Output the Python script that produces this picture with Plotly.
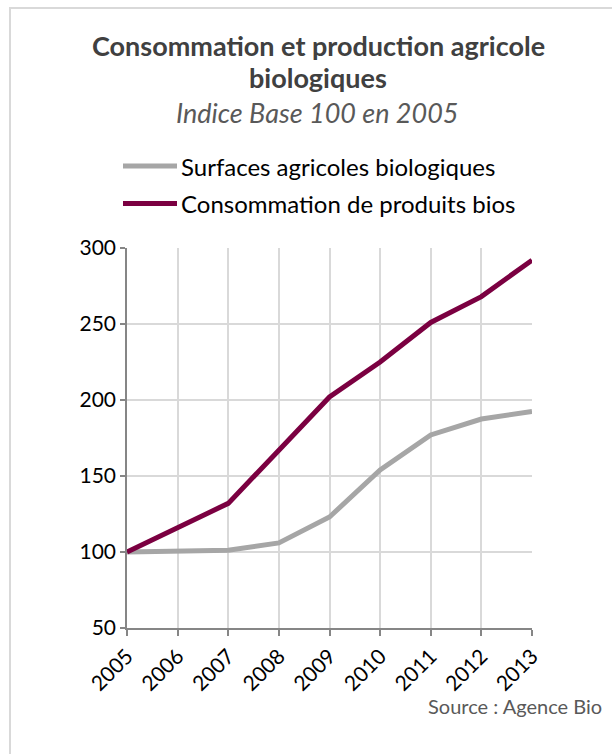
import plotly.graph_objects as go

# Index values (base 100 in 2005)
years = [2005, 2006, 2007, 2008, 2009, 2010, 2011, 2012, 2013]
surfaces = [100, 100.5, 101.2, 106, 123, 154, 177, 187.5, 192.5]
consommation = [100, 116, 132, 167, 202, 225, 251, 268, 292]
series_names = ["Surfaces agricoles biologiques", "Consommation de produits bios"]
series_colors = ["#A6A6A6", "#7B0041"]
y_ticks = [50, 100, 150, 200, 250, 300]

W, H = 612, 754
ML, MR, MT, MB = 127, 80, 248, 126
PW, PH = W - ML - MR, H - MT - MB

FONT = "Lato"


def px(x):
    return (x - ML) / PW


def py(y):
    return (H - MB - y) / PH


fig = go.Figure()
for vals, name, col in zip([surfaces, consommation], series_names, series_colors):
    fig.add_trace(go.Scatter(
        x=years, y=vals, name=name, mode="lines",
        line=dict(color=col, width=5), showlegend=False,
        cliponaxis=False,
    ))

annotations = [
    dict(text="<b>Consommation et production agricole</b>", x=px(318), y=py(45),
         font=dict(size=27, color="#404040")),
    dict(text="<b>biologiques</b>", x=px(318), y=py(78),
         font=dict(size=27, color="#404040")),
    dict(text="<i>Indice Base 100 en 2005</i>", x=px(317), y=py(113),
         font=dict(size=27, color="#595959")),
    dict(text="Source : Agence Bio", x=px(604), y=py(706), xanchor="right",
         font=dict(size=20, color="#595959")),
]
shapes = [
    # frame (top and left edges)
    dict(type="line", x0=px(9), x1=px(612), y0=py(8), y1=py(8),
         line=dict(color="#D9D9D9", width=2)),
    dict(type="line", x0=px(10), x1=px(10), y0=py(8), y1=py(754),
         line=dict(color="#D9D9D9", width=2)),
]

# custom legend
for i, (name, col) in enumerate(zip(series_names, series_colors)):
    yy = 166 + i * 37.5
    shapes.append(dict(type="line", x0=px(123), x1=px(177), y0=py(yy), y1=py(yy),
                       line=dict(color=col, width=5)))
    annotations.append(dict(text=name, x=px(179), y=py(yy), xanchor="left",
                            font=dict(size=24, color="#000000")))

for a in annotations:
    a.setdefault("xanchor", "center")
    a.update(xref="paper", yref="paper", yanchor="middle", showarrow=False)
for s in shapes:
    s.update(xref="paper", yref="paper", layer="above")

fig.update_layout(
    width=W, height=H,
    margin=dict(l=ML, r=MR, t=MT, b=MB, pad=0),
    paper_bgcolor="white", plot_bgcolor="white",
    font=dict(family=FONT, color="#000000"),
    annotations=annotations, shapes=shapes,
    showlegend=False,
    xaxis=dict(
        range=[2005, 2013], tickvals=years, ticktext=[str(y) for y in years],
        tickangle=-45, tickfont=dict(size=21, color="#000000"),
        showgrid=True, gridcolor="#D9D9D9", gridwidth=1.5,
        showline=True, linecolor="#868686", linewidth=1.5,
        ticks="outside", ticklen=6, tickcolor="#868686", tickwidth=1.5,
        zeroline=False, fixedrange=True,
    ),
    yaxis=dict(
        range=[50, 300], tickvals=y_ticks,
        tickfont=dict(size=21, color="#000000"),
        showgrid=True, gridcolor="#D9D9D9", gridwidth=1.5,
        showline=True, linecolor="#868686", linewidth=1.5,
        ticks="outside", ticklen=5, tickcolor="#868686", tickwidth=1.5,
        zeroline=False, fixedrange=True,
    ),
)

fig.write_html("out.html", config={"displayModeBar": False})
